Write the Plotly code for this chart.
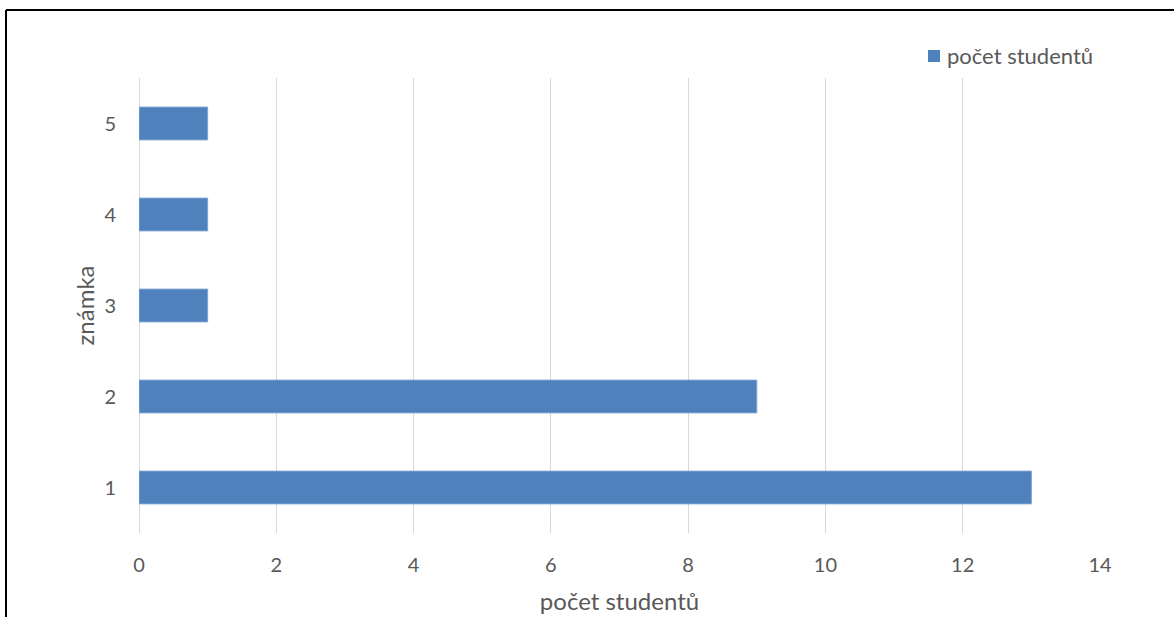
import plotly.graph_objects as go

# Grades and number of students per grade
grades = ["1", "2", "3", "4", "5"]
students = [13, 9, 1, 1, 1]
x_ticks = [0, 2, 4, 6, 8, 10, 12, 14]
series_name = "počet studentů"

W, H = 1174, 617
ML, MR, MT, MB = 139, 74, 78, 84
PW, PH = W - ML - MR, H - MT - MB

FONT = "Lato, 'Open Sans', sans-serif"
TXT = "#595959"
BAR = "#4F81BD"

fig = go.Figure()
fig.add_trace(go.Bar(
    y=grades, x=students, orientation="h",
    name=series_name,
    width=0.36,
    marker=dict(color=BAR, line=dict(color="#7EA3D3", width=1)),
))


def px_x(p):
    return (p - ML) / PW


def px_y(p):
    return 1 - (p - MT) / PH


# Outer frame of the chart area (left and top edges)
fig.add_shape(type="line", xref="paper", yref="paper",
              x0=px_x(6), x1=px_x(W + 5), y0=px_y(10), y1=px_y(10),
              line=dict(color="black", width=2))
fig.add_shape(type="line", xref="paper", yref="paper",
              x0=px_x(6), x1=px_x(6), y0=px_y(10), y1=px_y(H + 5),
              line=dict(color="black", width=2))

# Legend: colour swatch and series name
fig.add_shape(type="rect", xref="paper", yref="paper",
              x0=px_x(928), x1=px_x(940), y0=px_y(50), y1=px_y(62),
              fillcolor=BAR, line=dict(width=0))
fig.add_annotation(xref="paper", yref="paper", x=px_x(945), y=px_y(56),
                   xanchor="left", yanchor="middle", showarrow=False,
                   text=series_name, font=dict(size=22, color=TXT))

fig.update_layout(
    width=W, height=H,
    margin=dict(l=ML, r=MR, t=MT, b=MB),
    paper_bgcolor="white", plot_bgcolor="white",
    font=dict(family=FONT, size=20, color=TXT),
    showlegend=False,
    xaxis=dict(range=[0, 14], tickvals=x_ticks, showgrid=True,
               gridcolor="#D9D9D9", gridwidth=1, zeroline=True,
               zerolinecolor="#D9D9D9", zerolinewidth=1,
               showline=False, ticks="", ticklabelstandoff=18,
               automargin=False,
               tickfont=dict(size=20, color=TXT),
               title=dict(text=series_name, standoff=18,
                          font=dict(size=24, color=TXT))),
    yaxis=dict(type="category", categoryorder="array", categoryarray=grades,
               range=[-0.5, 4.5], showgrid=False, showline=False,
               ticks="", ticklabelstandoff=22, automargin=False,
               tickfont=dict(size=20, color=TXT),
               title=dict(text="známka", standoff=2,
                          font=dict(size=24, color=TXT))),
)

fig.write_html("out.html")
